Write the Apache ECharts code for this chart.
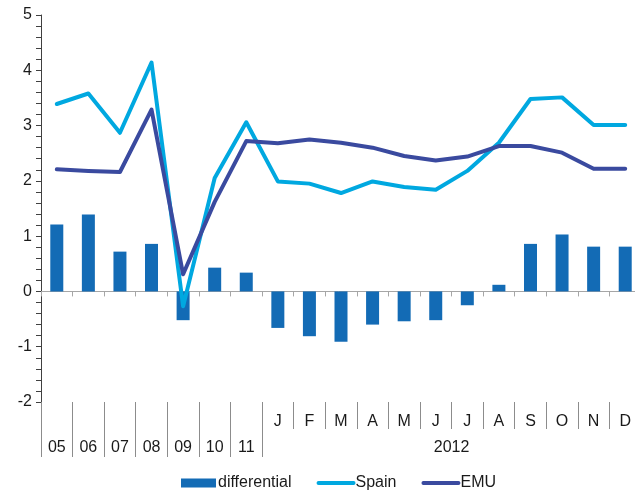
<!DOCTYPE html>
<html>
<head>
<meta charset="utf-8">
<script src="https://cdn.jsdelivr.net/npm/echarts@6/dist/echarts.min.js"></script>
<style>
  html, body { margin: 0; padding: 0; background: #fff; }
  #chart { width: 635px; height: 499px; }
</style>
</head>
<body>
<div id="chart"></div>
<script>
// Periods: annual averages 2005-2011, then the months of 2012
const yearLabels = ['05', '06', '07', '08', '09', '10', '11'];
const monthLabels = ['J', 'F', 'M', 'A', 'M', 'J', 'J', 'A', 'S', 'O', 'N', 'D'];
const monthGroupLabel = '2012';
const periods = yearLabels.concat(monthLabels);

// Inflation rates (%) and the Spain - EMU differential (pp)
const spain = [3.39, 3.58, 2.87, 4.14, -0.27, 2.05, 3.06,
               1.99, 1.95, 1.78, 1.99, 1.89, 1.84, 2.18, 2.69, 3.48, 3.51, 3.01, 3.01];
const emu = [2.21, 2.18, 2.16, 3.29, 0.31, 1.62, 2.72,
             2.68, 2.75, 2.69, 2.60, 2.45, 2.37, 2.44, 2.63, 2.63, 2.51, 2.22, 2.22];
const differential = [1.21, 1.39, 0.72, 0.86, -0.52, 0.43, 0.34,
                      -0.66, -0.81, -0.91, -0.60, -0.54, -0.52, -0.25, 0.12, 0.86, 1.03, 0.81, 0.81];

const yTicks = { min: -2, max: 5, interval: 1 };

const FONT = 'Liberation Sans, Arial, sans-serif';
const SEP = '#8c8c8c';
const SPAIN_COLOR = '#00a8e0';
const EMU_COLOR = '#3a4a9f';

// positions on the helper value axes (one unit = one period)
const nYears = yearLabels.length;
const nAll = periods.length;
const yearBounds = Array.from({ length: nYears + 1 }, (_, i) => i);
const monthBounds = Array.from({ length: monthLabels.length }, (_, i) => nYears + 1 + i);
const yearCenters = yearLabels.map((_, i) => i + 0.5);
const monthCenters = monthLabels.map((_, i) => nYears + i + 0.5);
const groupCenter = nYears + monthLabels.length / 2;

const chart = echarts.init(document.getElementById('chart'), null, { renderer: 'canvas' });

chart.setOption({
  animation: false,
  backgroundColor: '#ffffff',
  textStyle: { fontFamily: FONT },
  grid: { left: 41, top: 15, width: 600, height: 387, outerBoundsMode: 'none', containLabel: false },
  legend: {
    bottom: 3,
    left: 176,
    itemWidth: 35,
    itemHeight: 9,
    itemGap: 25,
    textStyle: { fontSize: 16, color: '#1a1a1a', fontFamily: FONT, padding: [0, 0, 0, -3] },
    data: [
      { name: 'differential', icon: 'rect' },
      { name: 'Spain', itemStyle: { opacity: 0 }, lineStyle: { width: 4, cap: 'round' } },
      { name: 'EMU', itemStyle: { opacity: 0 }, lineStyle: { width: 4, cap: 'round' } }
    ]
  },
  xAxis: [
    {
      type: 'category',
      data: periods,
      boundaryGap: true,
      axisLine: { onZero: true, lineStyle: { color: '#a6a6a6', width: 1 } },
      axisTick: { show: true, length: 5, alignWithLabel: false, lineStyle: { color: '#a6a6a6' } },
      axisLabel: { show: false },
      splitLine: { show: false }
    },
    {
      // annual separators and labels
      type: 'value', min: 0, max: nAll, position: 'bottom',
      axisLine: { show: false },
      splitLine: { show: false },
      axisTick: { show: true, customValues: yearBounds, length: 55, lineStyle: { color: SEP } },
      axisLabel: {
        customValues: yearCenters, margin: 38, fontSize: 16, color: '#1a1a1a', fontFamily: FONT,
        formatter: v => yearLabels[Math.floor(v)]
      }
    },
    {
      // monthly separators and labels
      type: 'value', min: 0, max: nAll, position: 'bottom',
      axisLine: { show: false },
      splitLine: { show: false },
      axisTick: { show: true, customValues: monthBounds, length: 27, lineStyle: { color: SEP } },
      axisLabel: {
        customValues: monthCenters, margin: 12, fontSize: 16, color: '#1a1a1a', fontFamily: FONT,
        formatter: v => monthLabels[Math.floor(v - nYears)]
      }
    },
    {
      // year heading under the months
      type: 'value', min: 0, max: nAll, position: 'bottom',
      axisLine: { show: false },
      splitLine: { show: false },
      axisTick: { show: false },
      axisLabel: {
        customValues: [groupCenter], margin: 38, fontSize: 16, color: '#1a1a1a', fontFamily: FONT,
        formatter: () => monthGroupLabel
      }
    }
  ],
  yAxis: {
    type: 'value',
    min: yTicks.min,
    max: yTicks.max,
    interval: yTicks.interval,
    axisLine: { show: true, lineStyle: { color: '#404040', width: 1 } },
    axisTick: { show: true, inside: false, length: 5, lineStyle: { color: '#404040' } },
    minorTick: { show: true, splitNumber: 5, length: 5, lineStyle: { color: '#404040' } },
    splitLine: { show: false },
    axisLabel: { fontSize: 16, color: '#1a1a1a', margin: 9, fontFamily: FONT }
  },
  series: [
    {
      name: 'differential',
      type: 'bar',
      data: differential,
      barWidth: 13,
      itemStyle: { color: '#136bb5' }
    },
    {
      name: 'Spain',
      type: 'line',
      data: spain,
      symbol: 'none',
      lineStyle: { color: SPAIN_COLOR, width: 4, join: 'round', cap: 'round' },
      itemStyle: { color: SPAIN_COLOR }
    },
    {
      name: 'EMU',
      type: 'line',
      data: emu,
      symbol: 'none',
      lineStyle: { color: EMU_COLOR, width: 4, join: 'round', cap: 'round' },
      itemStyle: { color: EMU_COLOR }
    }
  ]
});
</script>
</body>
</html>
